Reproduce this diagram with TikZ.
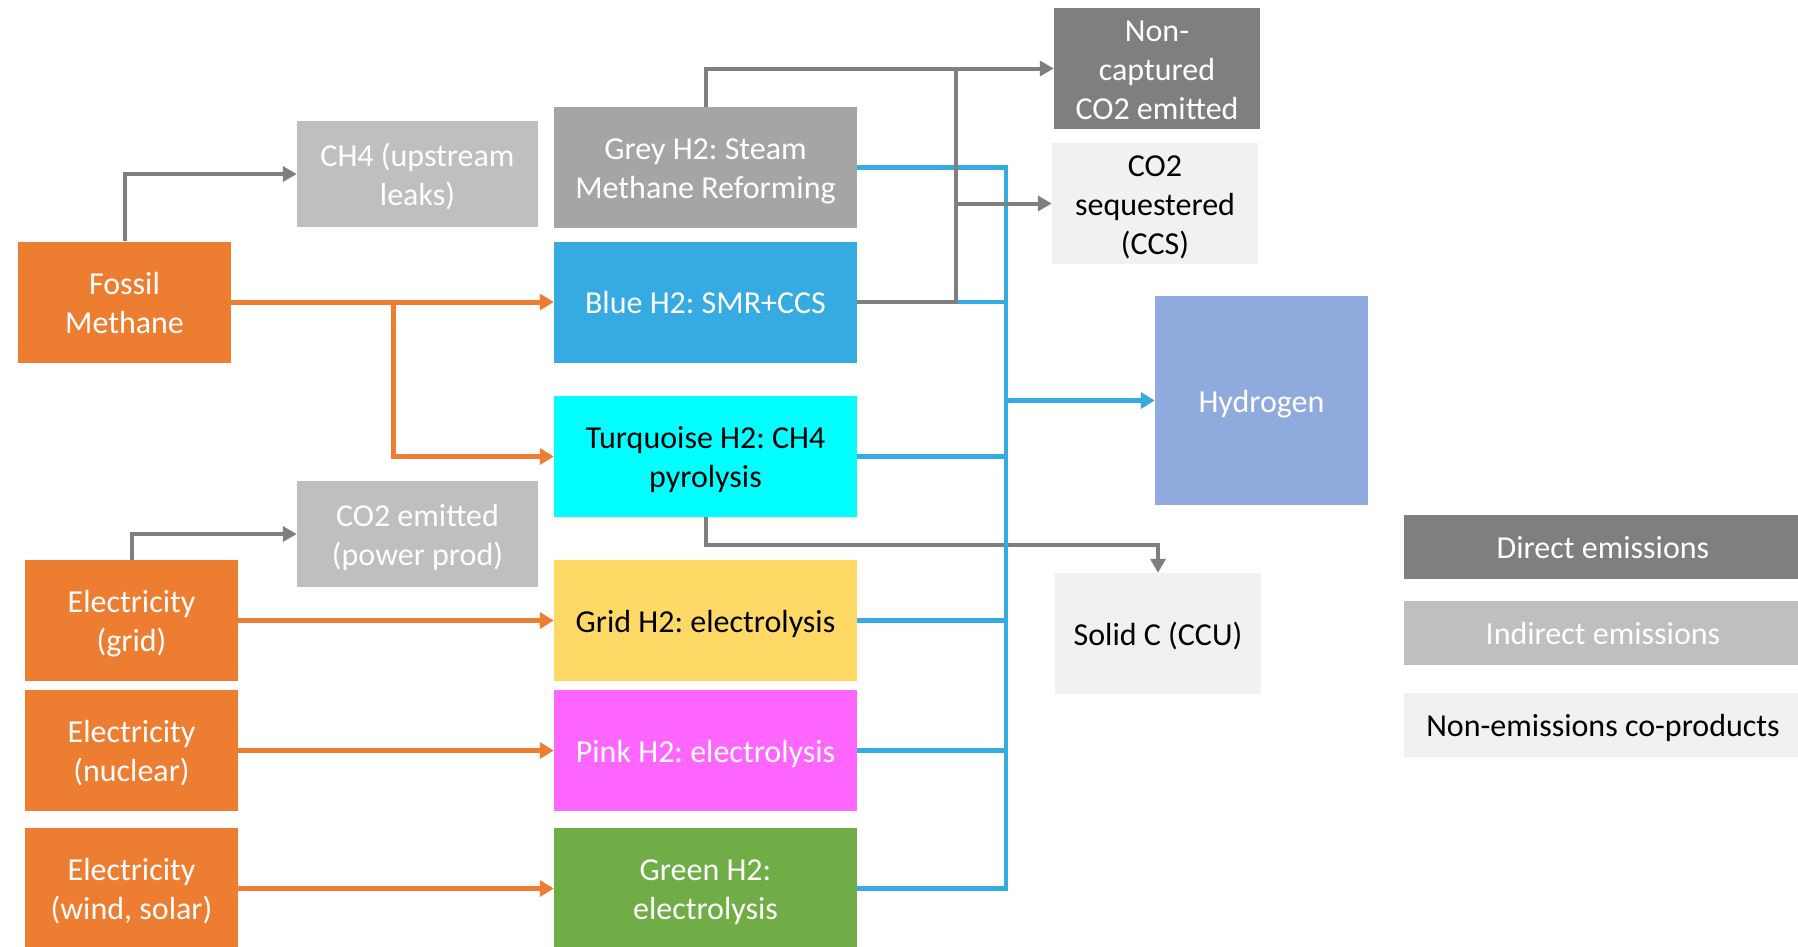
\documentclass[tikz,border=0pt]{standalone}
\usepackage{fontspec}
\setmainfont{Carlito}
\usetikzlibrary{arrows.meta}
\definecolor{corange}{HTML}{ED7D31}
\definecolor{cblue}{HTML}{35ABE2}
\definecolor{cgreyh}{HTML}{A5A5A5}
\definecolor{cindir}{HTML}{BFBFBF}
\definecolor{cdirect}{HTML}{7F7F7F}
\definecolor{clight}{HTML}{F1F1F1}
\definecolor{chydro}{HTML}{8FAADC}
\definecolor{cpink}{HTML}{FF66FF}
\definecolor{cgrid}{HTML}{FFD966}
\definecolor{cgreen}{HTML}{70AD47}
\definecolor{cturq}{HTML}{00FFFF}
\frenchspacing
\newcommand\mytop{\rule{0pt}{33pt}}
\newcommand\mybot{\rule[-9.6pt]{0pt}{9.6pt}}
\begin{document}
\begin{tikzpicture}[x=1pt,y=-1pt,
  box/.style={rectangle, inner sep=0pt, align=center, font=\fontsize{32}{39}\selectfont\frenchspacing, text=white},
  src/.style={box, fill=corange, minimum width=213pt, minimum height=121pt},
  proc/.style={box, minimum width=303pt, minimum height=121pt},
  emis/.style={box, fill=cindir, minimum width=241pt, minimum height=106pt},
  prod/.style={box, minimum width=206pt, minimum height=121pt},
  leg/.style={box, minimum width=398pt, minimum height=64pt},
  oline/.style={corange, line width=5pt, -{Triangle[length=14pt,width=16pt]}},
  gline/.style={cdirect, line width=4pt},
  garrow/.style={gline, -{Triangle[length=14pt,width=15pt]}},
  bline/.style={cblue, line width=4.5pt},
  barrow/.style={bline, -{Triangle[length=14pt,width=16pt]}}]
\useasboundingbox (0,0) rectangle (1798,946);
\clip (0,0) rectangle (1798,946);

% sources
\node[src] (fossil) at (124.5,302) {\mytop Fossil\\Methane\mybot};
\node[src] (egrid) at (131.5,620.5) {\mytop Electricity\\(grid)\mybot};
\node[src] (enuc) at (131.5,750.5) {\mytop Electricity\\(nuclear)\mybot};
\node[src] (ewind) at (131.5,888.5) {\mytop Electricity\\(wind, solar)\mybot};

% indirect emissions
\node[emis] (ch4) at (417.5,174) {\mytop CH4 (upstream\\leaks)\mybot};
\node[emis] (co2pp) at (417.5,534) {\mytop CO2 emitted\\(power prod)\mybot};

% processes
\node[proc, fill=cgreyh] (grey) at (705.5,167.5) {\mytop Grey H2: Steam\\Methane Reforming\mybot};
\node[proc, fill=cblue] (blueh) at (705.5,302) {\mytop Blue H2: SMR+CCS\mybot};
\node[proc, fill=cturq, text=black] (turq) at (705.5,456.5) {\mytop Turquoise H2: CH4\\pyrolysis\mybot};
\node[proc, fill=cgrid, text=black] (gridh) at (705.5,620.5) {\mytop Grid H2: electrolysis\mybot};
\node[proc, fill=cpink] (pink) at (705.5,750.5) {\mytop Pink H2: electrolysis\mybot};
\node[proc, fill=cgreen] (green) at (705.5,888.5) {\mytop Green H2:\\electrolysis\mybot};

% products
\node[prod, fill=cdirect] (noncap) at (1157,68.5) {\mytop Non-\\captured\\CO2 emitted\mybot};
\node[prod, fill=clight, text=black] (co2seq) at (1155,203.5) {\mytop CO2\\sequestered\\(CCS)\mybot};
\node[box, fill=chydro, minimum width=213pt, minimum height=209pt] (hydro) at (1261.5,400.5) {\mytop Hydrogen\mybot};
\node[prod, fill=clight, text=black] (solidc) at (1158,633.5) {\mytop Solid C (CCU)\mybot};

% legend
\node[leg, fill=cdirect] (ldirect) at (1603,547) {\mytop Direct emissions\mybot};
\node[leg, fill=cindir] (lindirect) at (1603,633) {\mytop Indirect emissions\mybot};
\node[leg, fill=clight, text=black] (lnonem) at (1603,725) {\mytop Non-emissions co-products\mybot};

% coordinates
\coordinate (fb) at (393,302);
\coordinate (cb) at (956,302);
\coordinate (bus) at (1006,0);
\coordinate (tj) at (0,545);

% orange connectors
\draw[oline] (fossil.east) -- (blueh.west);
\draw[oline] (fb) |- (turq.west);
\draw[oline] (egrid.east) -- (gridh.west);
\draw[oline] (enuc.east) -- (pink.west);
\draw[oline] (ewind.east) -- (green.west);

% grey to indirect
\draw[garrow] (fossil.north) |- (ch4.west);
\draw[garrow] (egrid.north) |- (co2pp.west);

% turquoise to solid C
\draw[garrow] (turq.south) -- (turq.south |- tj) -| (solidc.north);

% blue hydrogen bus
\draw[bline] (grey.east) -- (bus |- grey.east) -- (bus |- green.east) -- (green.east);
\draw[bline] (blueh.east) -- (bus |- blueh.east);
\draw[bline] (turq.east) -- (bus |- turq.east);
\draw[bline] (gridh.east) -- (bus |- gridh.east);
\draw[bline] (pink.east) -- (bus |- pink.east);
\draw[barrow] (bus |- hydro.west) -- (hydro.west);

% grey CO2 lines
\draw[garrow] (grey.north) |- (noncap.west);
\draw[gline] (blueh.east) -- (cb) -- (cb |- noncap.west);
\draw[garrow] (cb |- co2seq.west) -- (co2seq.west);
\end{tikzpicture}
\end{document}
